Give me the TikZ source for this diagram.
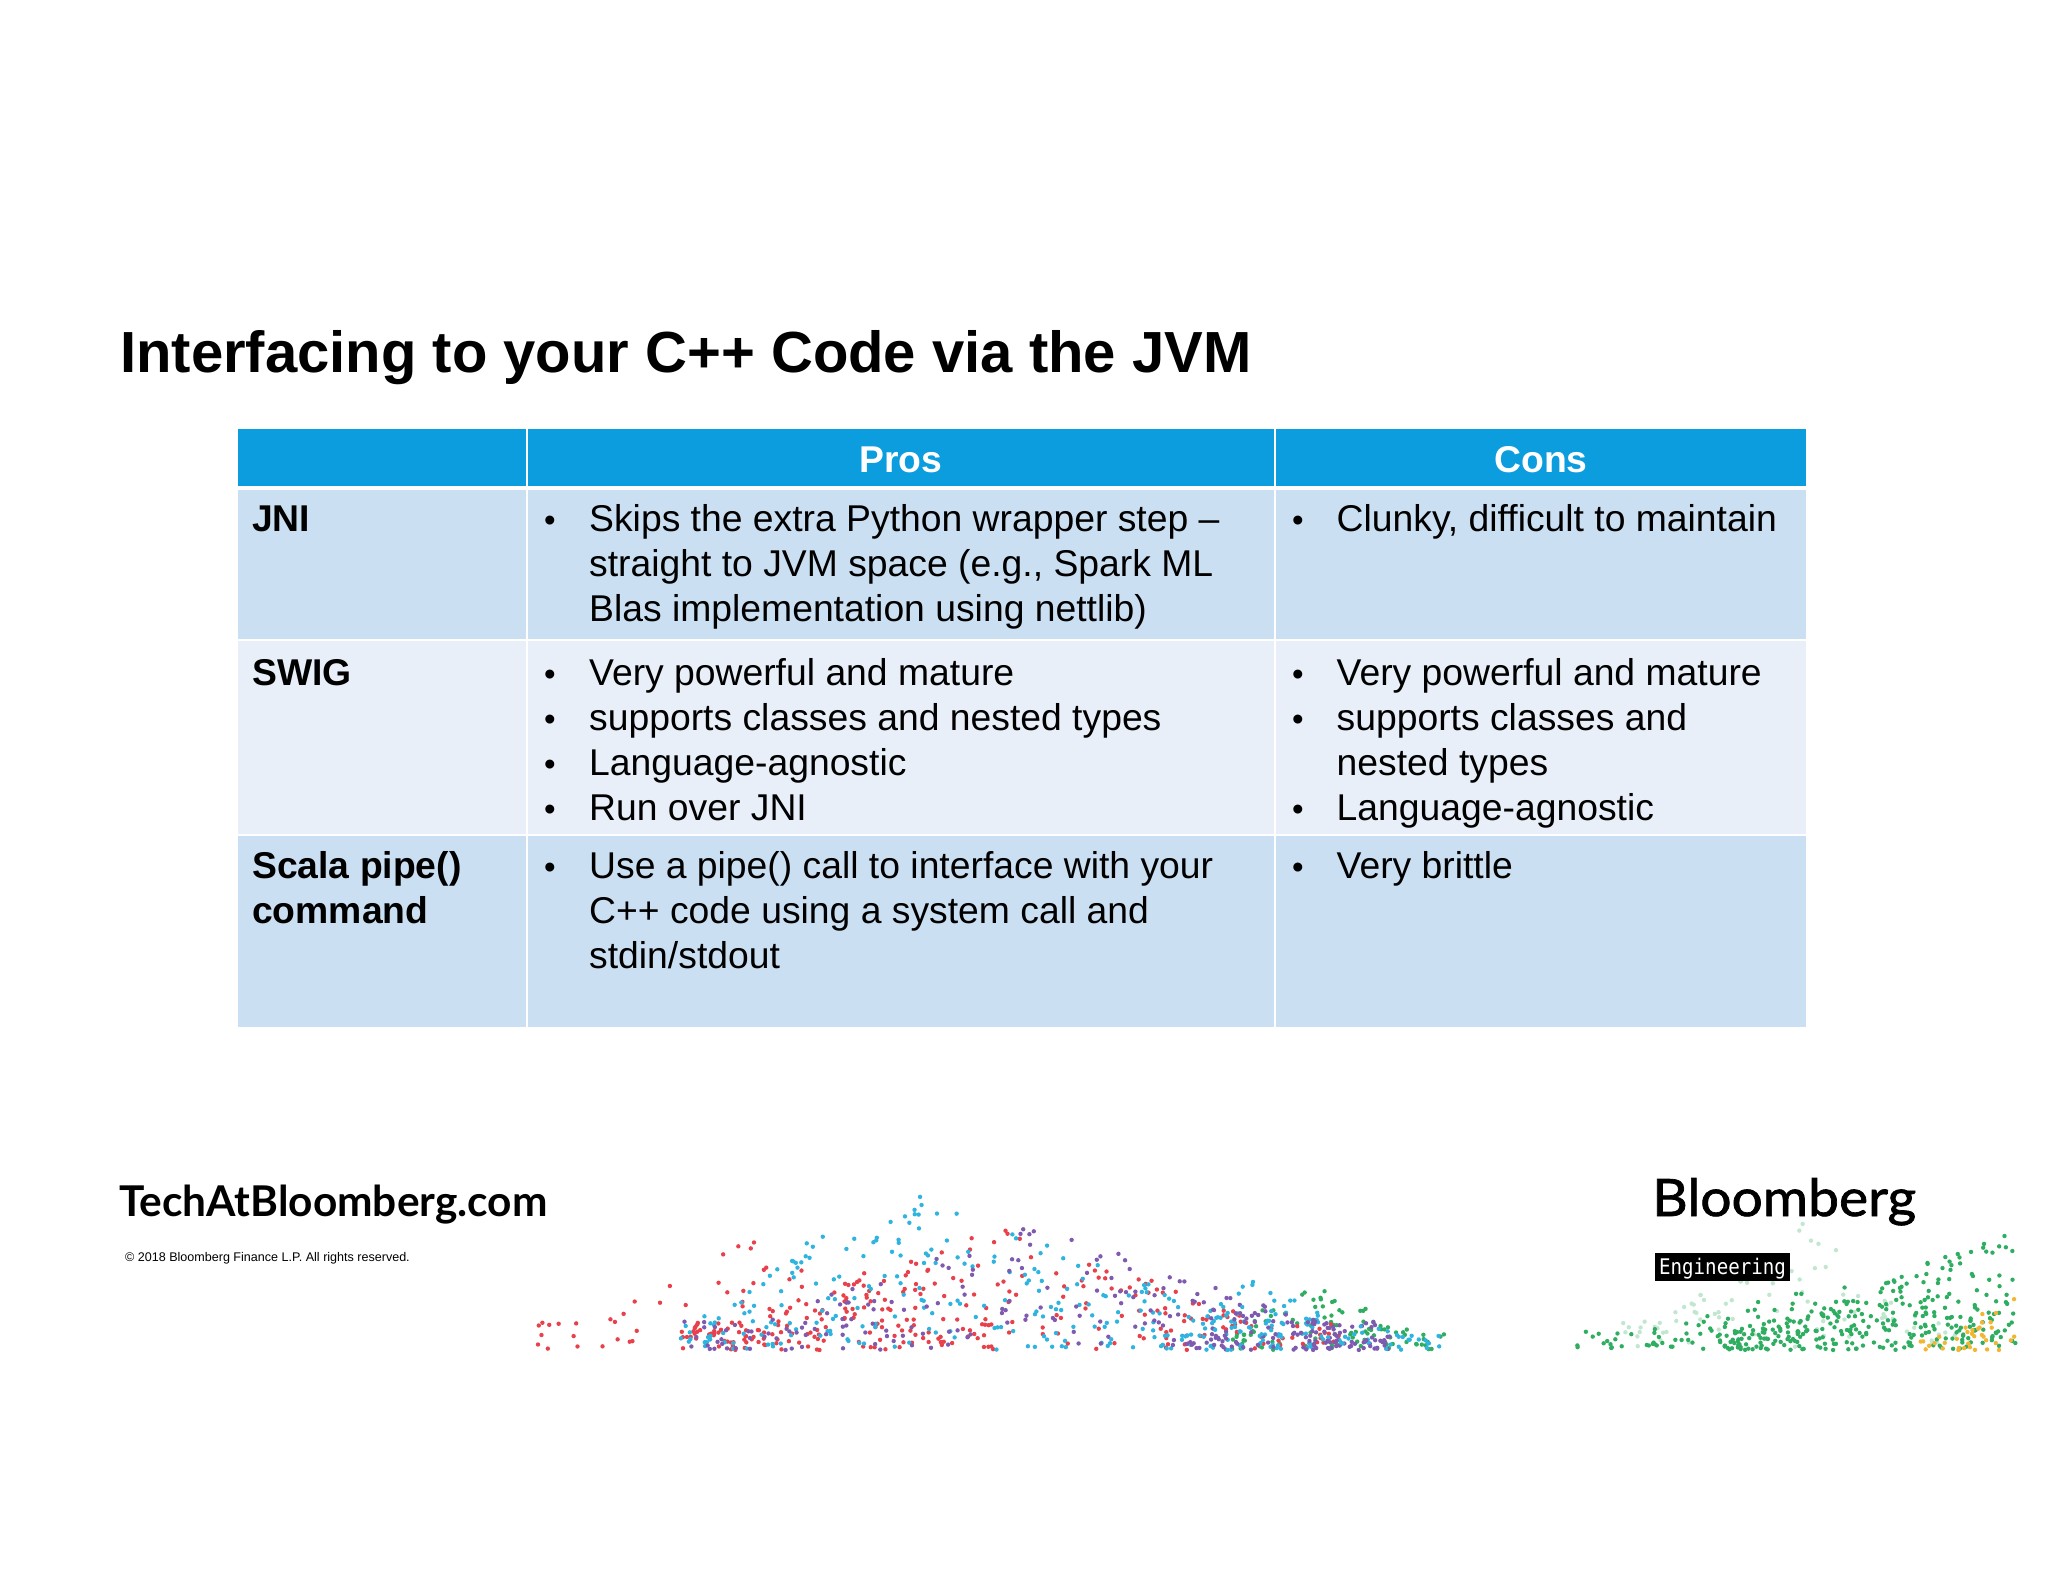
\documentclass[tikz,border=0pt]{standalone}
\usepackage{fontspec}
\setmainfont{Liberation Sans}
\newfontfamily\logofont{Lato}
\newfontfamily\logomedium[FakeBold=1.4,FakeStretch=1.07]{Lato}
\newfontfamily\badgefont[FakeStretch=0.89]{DejaVu Sans Mono}
\definecolor{headblue}{HTML}{0B9DDD}
\definecolor{rowdark}{HTML}{CBDFF2}
\definecolor{rowlight}{HTML}{E8EFF8}
\definecolor{dotred}{HTML}{E8414B}
\definecolor{dotblue}{HTML}{2FB4E0}
\definecolor{dotpurple}{HTML}{7F5BB0}
\definecolor{dotgreen}{HTML}{2FAE62}
\definecolor{dotyellow}{HTML}{F2B632}
\newcommand{\tblxa}{238}
\newcommand{\tblxb}{527}
\newcommand{\tblxc}{1275}
\newcommand{\tblxd}{1806}
\newcommand{\tblya}{429}
\newcommand{\tblyb}{486}
\newcommand{\tblyc}{490}
\newcommand{\tblyd}{640}
\newcommand{\tblye}{835}
\newcommand{\tblyf}{1027}
\newcommand{\dotbase}{1350}
% color, count, left, peak, right, height, power
\newcommand{\dotcloud}[7]{
  \foreach \i in {1,...,#2}{
    \pgfmathsetmacro{\dotx}{#3+(#5-#3)*rnd}
    \pgfmathsetmacro{\dotenv}{max(0.22,\dotx<#4 ? (\dotx-#3)/(#4-#3) : (#5-\dotx)/(#5-#4))}
    \pgfmathsetmacro{\doty}{\dotbase-#6*\dotenv*pow(rnd,#7)}
    \fill[#1] (\dotx,\doty) circle (2.2);
  }
}
\tikzset{
  bodytext/.style={anchor=base west,inner sep=0pt,font=\fontsize{37.3}{44.8}\selectfont},
  boldtext/.style={bodytext,font=\fontsize{37.3}{44.8}\selectfont\bfseries},
  headtext/.style={anchor=base,inner sep=0pt,text=white,font=\fontsize{37.3}{44.8}\selectfont\bfseries},
  bulletmark/.style={anchor=base,inner sep=0pt,font=\fontsize{33}{44.8}\selectfont},
  cellrule/.style={draw=white,line width=2pt},
}
\begin{document}
\begin{tikzpicture}[x=1pt,y=-1pt]
  \useasboundingbox (0,0) rectangle (2048,1582);

  \node (title) at (120,372) [anchor=base west,inner sep=0pt,
    font=\fontsize{58}{70}\selectfont\bfseries] {Interfacing to your C++ Code via the JVM};

  % table cells
  \fill[headblue] (\tblxa,\tblya) rectangle (\tblxd,\tblyb);
  \fill[rowdark] (\tblxa,\tblyc) rectangle (\tblxd,\tblyd);
  \fill[rowlight] (\tblxa,\tblyd) rectangle (\tblxd,\tblye);
  \fill[rowdark] (\tblxa,\tblye) rectangle (\tblxd,\tblyf);
  \draw[cellrule] (\tblxb,\tblya) -- (\tblxb,\tblyf);
  \draw[cellrule] (\tblxc,\tblya) -- (\tblxc,\tblyf);
  \draw[cellrule] (\tblxa,\tblyd) -- (\tblxd,\tblyd);
  \draw[cellrule] (\tblxa,\tblye) -- (\tblxd,\tblye);

  \node (pros) at (901,472) [headtext] {Pros};
  \node (cons) at (1541,472) [headtext] {Cons};

  \node (jni) at (252,531.5) [boldtext] {JNI};
  \node (swig) at (252,685) [boldtext] {SWIG};
  \node (scala) at (252,878) [boldtext] {Scala pipe()};
  \node (command) at (252,923.5) [boldtext] {command};

  % pros column
  \foreach \bully in {531.5,685,730.5,775,820,878}
    \node at (550,\bully) [bulletmark] {•};
  \foreach \bully in {531.5,685,730.5,820,878}
    \node at (1298,\bully) [bulletmark] {•};

  \node (prosa) at (589,531.5) [bodytext] {Skips the extra Python wrapper step –};
  \node (prosb) at (589,576.3) [bodytext] {straight to JVM space (e.g., Spark ML};
  \node (prosc) at (589,621) [bodytext] {Blas implementation using nettlib)};
  \node (prosd) at (589,685) [bodytext] {Very powerful and mature};
  \node (prose) at (589,730.5) [bodytext] {supports classes and nested types};
  \node (prosf) at (589,775) [bodytext] {Language-agnostic};
  \node (prosg) at (589,820) [bodytext] {Run over JNI};
  \node (prosh) at (589,878) [bodytext] {Use a pipe() call to interface with your};
  \node (prosi) at (589,923.5) [bodytext] {C++ code using a system call and};
  \node (prosj) at (589,968) [bodytext] {stdin/stdout};

  % cons column
  \node (consa) at (1336.5,531.5) [bodytext] {Clunky, difficult to maintain};
  \node (consb) at (1336.5,685) [bodytext] {Very powerful and mature};
  \node (consc) at (1336.5,730.5) [bodytext] {supports classes and};
  \node (consd) at (1336.5,775) [bodytext] {nested types};
  \node (conse) at (1336.5,820) [bodytext] {Language-agnostic};
  \node (consf) at (1336.5,878) [bodytext] {Very brittle};

  % footer
  \node (site) at (119,1216) [anchor=base west,inner sep=0pt,
    font=\fontsize{42.4}{46}\logofont\bfseries] {TechAtBloomberg.com};
  \node (copy) at (125,1261) [anchor=base west,inner sep=0pt,
    font=\fontsize{12.55}{14}\selectfont] {© 2018 Bloomberg Finance L.P. All rights reserved.};
  \pgfmathsetseed{2018}
  \dotcloud{dotgreen!30}{90}{1620}{1800}{1960}{130}{0.7}
  \node (logo) at (1652,1216) [anchor=base west,inner sep=0pt,
    font=\fontsize{51.5}{60}\logomedium] {Bloomberg};
  \fill[black] (1655,1253) rectangle (1790,1281);
  \node (badge) at (1722.5,1274) [anchor=base,inner sep=0pt,text=white,
    font=\fontsize{21.5}{24}\badgefont] {Engineering};

  % particle clouds
  \dotcloud{dotgreen}{95}{1230}{1290}{1450}{78}{1}
  \dotcloud{dotred}{75}{510}{780}{1000}{125}{1}
  \dotcloud{dotred}{260}{680}{1000}{1340}{125}{1.1}
  \dotcloud{dotblue}{270}{680}{880}{1320}{170}{1.1}
  \dotcloud{dotpurple}{210}{680}{1030}{1390}{130}{1.1}
  \dotcloud{dotblue}{80}{1150}{1250}{1440}{70}{1.1}
  \dotcloud{dotpurple}{70}{1170}{1270}{1390}{50}{1.1}
  \dotcloud{dotgreen}{110}{1570}{1900}{2016}{85}{1}
  \dotcloud{dotgreen}{270}{1720}{2015}{2016}{125}{1.1}
  \dotcloud{dotyellow}{36}{1920}{2015}{2016}{65}{1}
\end{tikzpicture}
\end{document}
